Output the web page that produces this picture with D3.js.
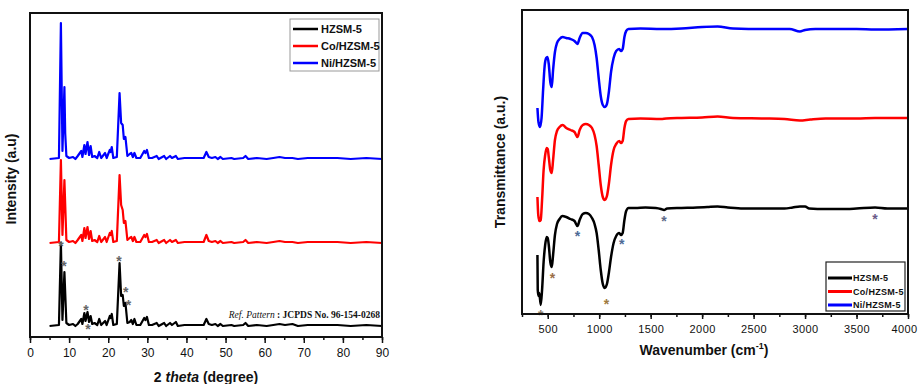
<!DOCTYPE html>
<html>
<head>
<meta charset="utf-8">
<script src="https://cdn.jsdelivr.net/npm/d3@7"></script>
<style>
    body { margin: 0; background: #fff; }
    svg { display: block; }
    text { font-family: "Liberation Sans", Arial, sans-serif; fill: #111; }
    .serif { font-family: "Liberation Serif", "Times New Roman", serif; }
</style>
</head>
<body>
<svg id="chart" width="918" height="384"></svg>
<script>
// ---- XRD data: [2 theta, intensity above own baseline] ----
const xrdHZSM5 = [[5,0],[7.4,1],[7.9,83],[8.3,6],[8.8,54],[9.3,3],[10,1],[11,2],[11.6,0],[12.2,2],[13.1,7],[13.4,2],
    [13.9,13],[14.2,5],[14.7,14],[15.1,4],[15.5,10],[15.9,2],[16.5,3],[17.2,1],[17.7,7],[18.2,1],[19.2,5],[19.6,1],
    [20.4,10],[20.6,8],[20.9,12],[21.3,1],[22.2,2],[22.9,63],[23.3,30],[23.7,31],[24.0,20],[24.4,23],[24.9,3],
    [25.5,4],[25.9,6],[26.3,2],[26.7,7],[27.2,1],[28.2,1],[29.2,8],[29.5,6],[29.9,9],[30.4,1],[31.2,1],[32.4,3],
    [32.9,0],[34.3,3],[34.8,0],[35.8,3],[36.3,1],[37.3,4],[37.8,0],[39.5,1],[44.4,1],[45.1,7],[45.7,2],[46.5,1],
    [47.4,2],[48.0,0],[48.7,2],[49.3,0],[51.5,1],[52.2,0],[54.5,1],[55.1,3],[55.8,0],[58,1],[60.5,0],[62.2,1],
    [63.8,2],[65.2,1],[67.1,2],[68.5,0],[71,1],[74.5,1],[78.6,1],[82,0],[86,1],[90,0]];
const xrdCo = [[5,0],[7.4,1],[7.9,83],[8.3,8],[8.8,63],[9.3,3],[10,1],[11,2],[11.6,0],[12.2,3],[13.1,8],[13.4,2],
    [13.9,15],[14.2,5],[14.7,16],[15.1,4],[15.5,12],[15.9,2],[16.5,3],[17.2,1],[17.7,7],[18.2,1],[19.2,6],[19.6,1],
    [20.4,10],[20.6,8],[20.9,12],[21.3,1],[22.2,2],[22.9,68],[23.3,38],[23.7,33],[24.0,20],[24.4,22],[24.9,3],
    [25.5,5],[25.9,6],[26.3,2],[26.7,6],[27.2,1],[28.2,1],[29.2,8],[29.5,6],[29.9,9],[30.4,1],[31.2,1],[32.4,3],
    [32.9,0],[34.3,3],[34.8,0],[35.8,3],[36.3,1],[37.3,3],[37.8,0],[39.5,1],[44.4,1],[45.1,8],[45.7,2],[46.5,1],
    [47.4,2],[48.0,0],[48.7,2],[49.3,0],[51.5,1],[52.2,0],[54.5,1],[55.1,3],[55.8,0],[58,1],[60.5,0],[62.2,1],
    [63.8,2],[65.2,1],[67.1,1],[68.5,0],[71,1],[74.5,1],[78.6,1],[82,0],[86,1],[90,0]];
const xrdNi = [[5,0],[7.4,1],[7.9,136],[8.3,8],[8.8,72],[9.0,26],[9.3,3],[10,1],[11,2],[11.6,0],[12.2,3],[13.1,8],
    [13.4,2],[13.9,14],[14.2,5],[14.7,17],[15.1,4],[15.5,13],[15.9,2],[16.5,3],[17.2,1],[17.7,7],[18.2,1],[19.2,6],
    [19.6,1],[20.4,9],[20.6,7],[20.9,12],[21.3,1],[22.2,2],[22.9,66],[23.3,36],[23.7,34],[24.0,20],[24.4,22],
    [24.9,3],[25.5,5],[25.9,6],[26.3,2],[26.7,6],[27.2,1],[28.2,1],[29.2,8],[29.5,6],[29.9,9],[30.4,1],[31.2,1],
    [32.4,3],[32.9,0],[34.3,3],[34.8,0],[35.8,3],[36.3,1],[37.3,3],[37.8,0],[39.5,1],[44.4,1],[45.1,7],[45.7,2],
    [46.5,1],[47.4,2],[48.0,0],[48.7,2],[49.3,0],[51.5,1],[52.2,0],[54.5,1],[55.1,3],[55.8,0],[58,1],[60.5,0],
    [62.2,1],[63.8,2],[65.2,1],[67.1,1],[68.5,0],[71,1],[74.5,1],[78.6,1],[82,0],[86,1],[90,0]];
const xrdNames = ["HZSM-5", "Co/HZSM-5", "Ni/HZSM-5"];
const xrdOffsets = [11, 94, 178];
const xrdStars = [[7.9, 94], [8.7, 74], [14.3, 30], [14.8, 11], [22.75, 79], [24.5, 48], [25.2, 35]];
const xrdTicks = [0, 10, 20, 30, 40, 50, 60, 70, 80, 90];

// ---- FTIR data: [wavenumber, transmittance a.u.] ----
const ftirHZSM5 = [[400,59],[403,24],[410,18],[418,21],[432,9],[445,24],[460,52],[475,69],[490,77],[500,76],
    [510,69],[525,52],[539,47],[552,59],[570,79],[590,90],[615,95],[640,98],[680,97],[720,95],[760,93],[789,88],
    [810,94],[840,100],[870,101],[900,100],[930,96],[955,90],[975,81],[995,64],[1015,44],[1035,30],[1054,26],
    [1075,30],[1095,42],[1115,57],[1140,71],[1165,78],[1194,81],[1212,79],[1228,81],[1245,94],[1262,103],
    [1285,106],[1350,106],[1450,106.5],[1550,106],[1600,105],[1630,104],[1660,105.5],[1800,106],[1950,106.5],
    [2050,107],[2150,107.5],[2250,106.5],[2400,105.5],[2600,105.5],[2800,105.5],[2880,106.5],[2950,107.5],
    [3000,107.5],[3040,105.5],[3200,105],[3350,105],[3500,105.5],[3680,106.5],[3800,105.5],[4000,105.5]];
const ftirCo = [[400,117],[408,99],[420,93],[432,94],[445,114],[460,144],[475,159],[490,166],[500,165],[510,157],
    [525,144],[539,141],[552,154],[570,174],[590,183],[615,187],[645,189],[680,186],[720,184],[760,182],[789,177],
    [810,184],[840,189],[870,190],[900,189],[930,186],[955,179],[975,168],[995,149],[1015,129],[1035,117],
    [1054,114],[1075,118],[1095,131],[1115,149],[1140,164],[1165,170],[1194,173],[1212,171],[1228,173],
    [1245,186],[1262,193],[1285,195],[1400,195.5],[1600,195],[1650,195.5],[1800,196],[2000,196.5],[2150,197.5],
    [2300,196],[2600,195.5],[2800,195],[2950,193.5],[3050,194.5],[3200,195.5],[3500,195.5],[3680,196],[4000,196]];
const ftirNi = [[400,206],[410,192],[425,187],[440,196],[455,224],[470,248],[485,256],[497,257],[510,250],
    [525,232],[539,227],[552,244],[570,262],[590,271],[615,275],[645,277],[680,276],[720,275],[760,273],[789,270],
    [810,276],[840,281],[870,281],[900,280],[930,277],[955,269],[975,256],[995,236],[1015,218],[1035,209],
    [1054,207],[1075,210],[1095,223],[1115,242],[1140,256],[1165,263],[1194,265],[1212,263],[1228,265],
    [1245,277],[1262,283],[1285,285],[1400,285.5],[1600,285],[1800,285.5],[2000,287],[2150,287.5],[2300,285.5],
    [2600,285],[2850,285],[2950,282.5],[3000,284],[3100,285],[3500,285],[3680,284.5],[4000,285]];
const ftirStars = [[432,2,"#8a7c68"],[545,39,"#9a6e48"],[789,81,"#4d6a96"],[1070,13,"#a07a40"],
    [1220,73,"#4d6a96"],[1630,96,"#5d6a88"],[3680,98,"#6a5a88"]];
const ftirTicks = [500, 1000, 1500, 2000, 2500, 3000, 3500, 4000];

const colors = ["#000000", "#ff0000", "#0000ff"];

const svg = d3.select("#chart");

// ================= Left panel: XRD =================
const L = {left: 30, right: 382, top: 13, bottom: 337};
const xL = d3.scaleLinear().domain([0, 90]).range([L.left, L.right]);
const yL = d3.scaleLinear().domain([0, 324]).range([L.bottom, L.top]);

const gL = svg.append("g");

gL.append("g")
    .attr("transform", `translate(0,${L.bottom})`)
    .call(d3.axisBottom(xL).tickValues(d3.range(0, 91, 5)).tickSize(3).tickFormat(""))
    .call(g => g.select(".domain").remove())
    .call(g => g.selectAll("line").attr("stroke", "#111").attr("stroke-width", 1.5));
gL.append("g")
    .attr("transform", `translate(0,${L.bottom})`)
    .call(d3.axisBottom(xL).tickValues(xrdTicks).tickSize(6).tickPadding(5))
    .call(g => g.select(".domain").remove())
    .call(g => g.selectAll("line").attr("stroke", "#111").attr("stroke-width", 1.5))
    .call(g => g.selectAll("text").attr("font-size", 12).attr("fill", "#222")
        .style("font-family", "'Liberation Sans', Arial, sans-serif"));

const xrdSeries = [xrdHZSM5, xrdCo, xrdNi];
// draw top-down so black sits over red
[2, 1, 0].forEach(i => {
    const line = d3.line()
        .x(d => xL(d[0]))
        .y(d => yL(d[1] + xrdOffsets[i]));
    gL.append("path")
        .datum(xrdSeries[i])
        .attr("fill", "none")
        .attr("stroke", colors[i])
        .attr("stroke-width", 2.2)
        .attr("stroke-linejoin", "round")
        .attr("d", line);
});

gL.selectAll(".xstar")
    .data(xrdStars)
    .enter().append("text")
    .attr("x", d => xL(d[0]))
    .attr("y", d => yL(d[1]))
    .attr("dy", "0.55em")
    .attr("text-anchor", "middle")
    .attr("font-size", 14)
    .attr("font-weight", "bold")
    .style("fill", "#666")
    .text("*");

gL.append("rect")
    .attr("x", L.left).attr("y", L.top)
    .attr("width", L.right - L.left).attr("height", L.bottom - L.top)
    .attr("fill", "none").attr("stroke", "#111").attr("stroke-width", 2);

const refT = gL.append("text").attr("class", "serif")
    .attr("x", L.right - 2).attr("y", 318)
    .attr("text-anchor", "end")
    .attr("font-size", 9.5);
refT.append("tspan").attr("font-style", "italic").text("Ref. Pattern");
refT.append("tspan").attr("font-weight", "bold").text(" : JCPDS No. 96-154-0268");

// legend
const legL = gL.append("g");
legL.append("rect")
    .attr("x", 290).attr("y", 19).attr("width", 89).attr("height", 52)
    .attr("fill", "#fff").attr("stroke", "#999").attr("stroke-width", 1);
xrdNames.forEach((n, i) => {
    const yy = 29 + i * 17;
    legL.append("line").attr("x1", 293).attr("x2", 318).attr("y1", yy).attr("y2", yy)
        .attr("stroke", colors[i]).attr("stroke-width", 2.5);
    legL.append("text").attr("x", 321).attr("y", yy).attr("dy", "0.35em")
        .attr("font-size", 11).attr("font-weight", "bold").text(n);
});

gL.append("text")
    .attr("transform", `translate(16,${(L.top + L.bottom) / 2 + 4}) rotate(-90)`)
    .attr("text-anchor", "middle")
    .attr("font-size", 14).attr("font-weight", "bold")
    .text("Intensity (a.u)");

const xlab = gL.append("text")
    .attr("x", (L.left + L.right) / 2).attr("y", 382)
    .attr("text-anchor", "middle")
    .attr("font-size", 14).attr("font-weight", "bold");
xlab.append("tspan").text("2 ");
xlab.append("tspan").attr("font-style", "italic").text("theta");
xlab.append("tspan").text(" (degree)");

// ================= Right panel: FTIR =================
const R = {left: 522, right: 908, top: 10, bottom: 314};
const xR = d3.scaleLinear().domain([250, 4000]).range([R.left, R.right]);
const yR = d3.scaleLinear().domain([0, 304]).range([R.bottom, R.top]);

const gR = svg.append("g");

gR.append("g")
    .attr("transform", `translate(0,${R.bottom})`)
    .call(d3.axisBottom(xR).tickValues(d3.range(250, 4001, 250)).tickSize(3).tickFormat(""))
    .call(g => g.select(".domain").remove())
    .call(g => g.selectAll("line").attr("stroke", "#111").attr("stroke-width", 1.5));
gR.append("g")
    .attr("transform", `translate(0,${R.bottom})`)
    .call(d3.axisBottom(xR).tickValues(ftirTicks).tickSize(5).tickPadding(6).tickFormat(d3.format("d")))
    .call(g => g.select(".domain").remove())
    .call(g => g.selectAll("line").attr("stroke", "#111").attr("stroke-width", 1.5))
    .call(g => g.selectAll("text").attr("font-size", 11).attr("fill", "#222")
        .attr("letter-spacing", 0.4)
        .style("font-family", "'Liberation Sans', Arial, sans-serif"))
    .call(g => g.selectAll("text").filter(d => d === 4000)
        .attr("text-anchor", "end").attr("dx", 9));

const ftirSeries = [ftirHZSM5, ftirCo, ftirNi];
ftirSeries.forEach((s, i) => {
    const line = d3.line()
        .x(d => xR(d[0]))
        .y(d => yR(d[1]))
        .curve(d3.curveMonotoneX);
    gR.append("path")
        .datum(s)
        .attr("fill", "none")
        .attr("stroke", colors[i])
        .attr("stroke-width", 2.5)
        .attr("stroke-linejoin", "round")
        .attr("d", line);
});

gR.selectAll(".fstar")
    .data(ftirStars)
    .enter().append("text")
    .attr("x", d => xR(d[0]))
    .attr("y", d => yR(d[1]))
    .attr("dy", "0.6em")
    .attr("text-anchor", "middle")
    .attr("font-size", 14)
    .attr("font-weight", "bold")
    .style("fill", d => d[2])
    .text("*");

gR.append("rect")
    .attr("x", R.left).attr("y", R.top)
    .attr("width", R.right - R.left).attr("height", R.bottom - R.top)
    .attr("fill", "none").attr("stroke", "#111").attr("stroke-width", 2);

const legR = gR.append("g");
legR.append("rect")
    .attr("x", 826).attr("y", 262).attr("width", 79).attr("height", 49)
    .attr("fill", "#fff").attr("stroke", "#222").attr("stroke-width", 1.2);
xrdNames.forEach((n, i) => {
    const yy = 278 + i * 13.5;
    legR.append("line").attr("x1", 828).attr("x2", 852).attr("y1", yy).attr("y2", yy)
        .attr("stroke", colors[i]).attr("stroke-width", 3);
    legR.append("text").attr("x", 853).attr("y", yy).attr("dy", "0.35em")
        .attr("font-size", 9).attr("font-weight", "bold").attr("letter-spacing", 0.3).text(n);
});

gR.append("text")
    .attr("transform", `translate(505,${(R.top + R.bottom) / 2}) rotate(-90)`)
    .attr("text-anchor", "middle")
    .attr("font-size", 14).attr("font-weight", "bold")
    .text("Transmittance (a.u.)");

const xlabR = gR.append("text")
    .attr("x", 704).attr("y", 355)
    .attr("text-anchor", "middle")
    .attr("font-size", 14).attr("font-weight", "bold");
xlabR.append("tspan").text("Wavenumber (cm");
xlabR.append("tspan").attr("dy", -6).attr("font-size", 9).text("-1");
xlabR.append("tspan").attr("dy", 6).text(")");
</script>
</body>
</html>
